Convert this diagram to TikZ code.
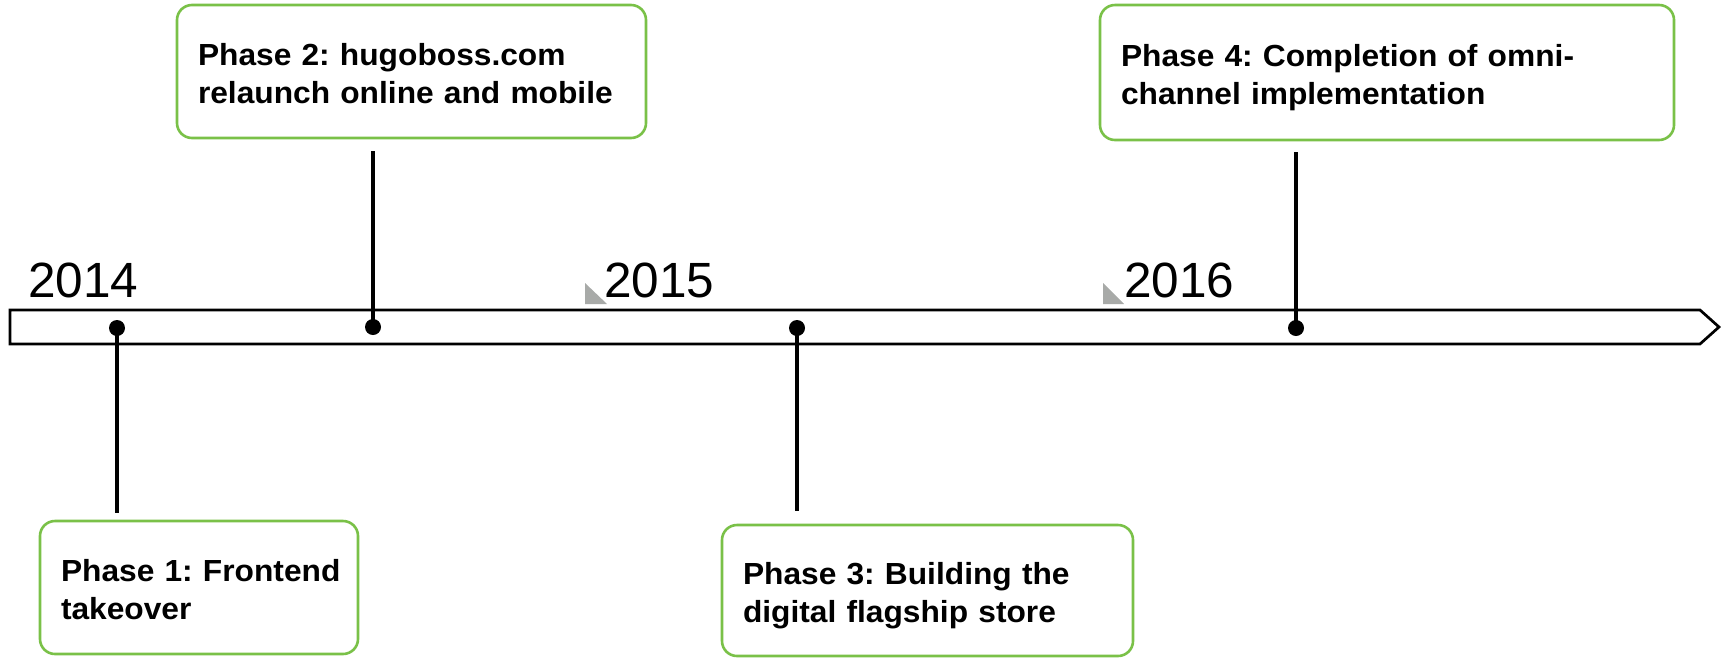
\documentclass[tikz,border=0pt]{standalone}
\usepackage{fontspec}
\setmainfont{Liberation Sans}
\newfontfamily\boxfont[FakeStretch=1.04]{Liberation Sans}
\frenchspacing
\newcommand\phtop{\rule{0pt}{33pt}}
\newcommand\phbot{\rule[-8pt]{0pt}{8pt}}
\definecolor{boxgreen}{RGB}{122,193,72}
\definecolor{markgrey}{RGB}{168,170,168}
\tikzset{
  phasebox/.style={draw=boxgreen, line width=2.6pt, rounded corners=15pt, fill=white,
    inner xsep=21pt, inner ysep=0pt, align=left,
    font=\boxfont\bfseries\fontsize{30.5}{38}\selectfont},
  yearlabel/.style={anchor=base west, inner sep=0pt, font=\fontsize{49.5}{50}\selectfont},
  dotmark/.style={circle, fill=black, inner sep=0pt, minimum size=16pt},
  stem/.style={line width=4.5pt},
  bar/.style={draw=black, line width=2.7pt, fill=white},
  tick/.style={fill=markgrey, draw=none}
}
\begin{document}
\begin{tikzpicture}[x=1pt,y=-1pt]
\useasboundingbox (0,0) rectangle (1721,657);
% timeline bar
\draw[bar] (10,310) -- (1700,310) -- (1719,327) -- (1700,344) -- (10,344) -- cycle;
% year ticks
\fill[tick] (585,283) -- (585,304) -- (607,304) -- cycle;
\fill[tick] (1103,283) -- (1103,304) -- (1124,304) -- cycle;
% year labels
\node[yearlabel] (y14) at (28,297) {2014};
\node[yearlabel] (y15) at (604,297) {2015};
\node[yearlabel] (y16) at (1124,297) {2016};
% boxes
\node[phasebox, text width=276pt, minimum height=133pt] (b1) at (199,587.5) {\phtop\mbox{Phase 1: Frontend}\\\mbox{takeover}\phbot};
\node[phasebox, text width=427pt, minimum height=133pt] (b2) at (411.5,71.5) {\phtop\mbox{Phase 2: hugoboss.com}\\\mbox{relaunch online and mobile}\phbot};
\node[phasebox, text width=369pt, minimum height=131pt] (b3) at (927.5,590.5) {\phtop\mbox{Phase 3: Building the}\\\mbox{digital flagship store}\phbot};
\node[phasebox, text width=532pt, minimum height=135pt] (b4) at (1387,72.5) {\phtop\mbox{Phase 4: Completion of omni-}\\\mbox{channel implementation}\phbot};
% stems ends
\coordinate (e1) at (117,513);
\coordinate (e2) at (373,151);
\coordinate (e3) at (797,511);
\coordinate (e4) at (1296,152);
% dots
\node[dotmark] (d1) at (117,328) {};
\node[dotmark] (d2) at (373,327) {};
\node[dotmark] (d3) at (797,328) {};
\node[dotmark] (d4) at (1296,328) {};
\draw[stem] (d1.center) -- (e1);
\draw[stem] (d2.center) -- (e2);
\draw[stem] (d3.center) -- (e3);
\draw[stem] (d4.center) -- (e4);
\end{tikzpicture}
\end{document}
